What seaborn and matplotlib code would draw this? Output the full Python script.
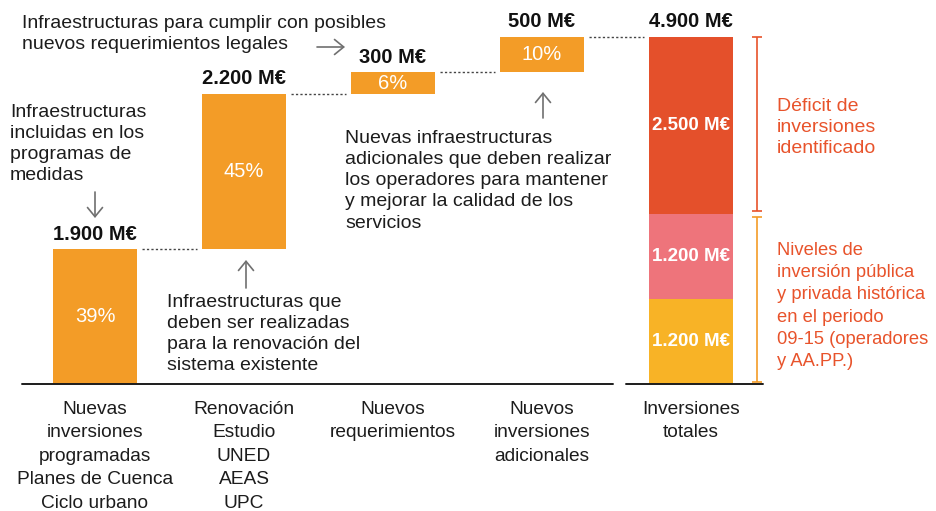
import matplotlib
matplotlib.use("Agg")
import matplotlib.pyplot as plt
import seaborn as sns
import numpy as np
import pandas as pd

# data (M€)
categories = [
    "Nuevas\ninversiones\nprogramadas\nPlanes de Cuenca\nCiclo urbano",
    "Renovación\nEstudio\nUNED\nAEAS\nUPC",
    "Nuevos\nrequerimientos",
    "Nuevos\ninversiones\nadicionales",
    "Inversiones\ntotales",
]
steps = [1900, 2200, 300, 500]
step_pcts = ["39%", "45%", "6%", "10%"]
step_labels = ["1.900 M€", "2.200 M€", "300 M€", "500 M€"]
total_parts = [1200, 1200, 2500]
total_part_labels = ["1.200 M€", "1.200 M€", "2.500 M€"]
total_label = "4.900 M€"

ORANGE = "#F39C27"
TOTAL_COLORS = ["#F8B326", "#EE747B", "#E4502B"]
NOTE_RED = "#E8532B"
TXT = "#1c1c1c"
ARROW = "#707070"

sns.set_theme(style="white")
plt.rcParams["font.family"] = ["Liberation Sans", "DejaVu Sans"]

W, H = 936, 511
fig = plt.figure(figsize=(W / 100, H / 100), dpi=100)
ax = fig.add_axes([0, 127 / H, 1, 384 / H])

bases = np.concatenate([[0], np.cumsum(steps)[:-1]])
tops = bases + np.array(steps)
df = pd.DataFrame({"cat": categories[:4], "value": steps, "base": bases})

bar_w = 0.56
sns.barplot(data=df, x="cat", y="value", order=categories, bottom=df["base"].values,
            color=ORANGE, width=bar_w, errorbar=None, saturation=1, linewidth=0, ax=ax)

cum = 0
for part, col in zip(total_parts, TOTAL_COLORS):
    sns.barplot(x=[categories[4]], y=[part], order=categories, bottom=cum, color=col,
                width=bar_w, errorbar=None, saturation=1, linewidth=0, ax=ax)
    cum += part
total = cum

ax.set_xlim(-95 / 149, (W - 95) / 149)
ax.set_ylim(0, 384 * total / 347)
ax.set_xticks(range(len(categories)))
ax.set_xticklabels(categories, linespacing=1.5)
ax.tick_params(axis="x", length=0, pad=12, labelsize=13.8, labelcolor=TXT)
ax.set_yticks([])
ax.set_xlabel("")
ax.set_ylabel("")
sns.despine(ax=ax, left=True, bottom=True)

# baseline, with a gap before the totals bar
ax.plot([-0.49, 3.477], [0, 0], color=TXT, lw=1.4, clip_on=False)
ax.plot([3.564, 4.483], [0, 0], color=TXT, lw=1.4, clip_on=False)

# dotted connectors
gap = 0.035
for i in range(len(steps)):
    ax.plot([i + bar_w / 2 + gap, i + 1 - bar_w / 2 - gap], [tops[i], tops[i]],
            ls=(0, (1.6, 1.6)), lw=1, color="#444")

# labels on the waterfall bars
off = total * 0.016
for i in range(len(steps)):
    ax.text(i, tops[i] + off, step_labels[i], ha="center", va="bottom",
            fontsize=14.5, fontweight="bold", color="#111")
    ax.text(i, bases[i] + steps[i] / 2, step_pcts[i], ha="center", va="center",
            fontsize=14.5, color="white")

ax.text(4, total + off, total_label, ha="center", va="bottom",
        fontsize=14.5, fontweight="bold", color="#111")
cum = 0
for part, lab in zip(total_parts, total_part_labels):
    ax.text(4, cum + part / 2, lab, ha="center", va="center", fontsize=13.5,
            fontweight="bold", color="white")
    cum += part

# brackets on the right of the totals bar
bx = (757 - 95) / 149
lo, hi = total_parts[0] + total_parts[1] + 40, total
ax.errorbar([bx], [(lo + hi) / 2], yerr=[(hi - lo) / 2], color=NOTE_RED, lw=1.2,
            capsize=3.5, capthick=1.2, clip_on=False)
lo, hi = 25, total_parts[0] + total_parts[1] - 40
ax.errorbar([bx], [(lo + hi) / 2], yerr=[(hi - lo) / 2], color=ORANGE, lw=1.2,
            capsize=3.5, capthick=1.2, clip_on=False)


def at(px, py):
    return px / W, 1 - py / H


notes = [
    (22, 15, "Infraestructuras para cumplir con posibles", TXT, 14),
    (22, 36, "nuevos requerimientos legales", TXT, 14),
    (10, 104, "Infraestructuras\nincluidas en los\nprogramas de\nmedidas", TXT, 14),
    (167, 294, "Infraestructuras que\ndeben ser realizadas\npara la renovación del\nsistema existente", TXT, 14),
    (345, 130, "Nuevas infraestructuras\nadicionales que deben realizar\nlos operadores para mantener\n"
               "y mejorar la calidad de los\nservicios", TXT, 14),
    (777, 98, "Déficit de\ninversiones\nidentificado", NOTE_RED, 14),
    (777, 242, "Niveles de\ninversión pública\ny privada histórica\nen el periodo\n"
               "09-15 (operadores\ny AA.PP.)", NOTE_RED, 13.2),
]
for x, y, s, c, fs in notes:
    fig.text(*at(x, y), s, ha="left", va="top", fontsize=fs, color=c,
             linespacing=1.32 * 14 / fs if fs < 14 else 1.32)

arrows = [((317, 47), (345, 47)), ((95, 192), (95, 218)),
          ((246, 288), (246, 260)), ((543, 118), (543, 92))]
for start, end in arrows:
    ax.annotate("", xy=at(*end), xytext=at(*start), xycoords="figure fraction",
                textcoords="figure fraction",
                arrowprops=dict(arrowstyle="->,head_length=0.55,head_width=0.45",
                                mutation_scale=12, color=ARROW, lw=1.2,
                                shrinkA=0, shrinkB=0))

fig.savefig("out.png", dpi=100)
